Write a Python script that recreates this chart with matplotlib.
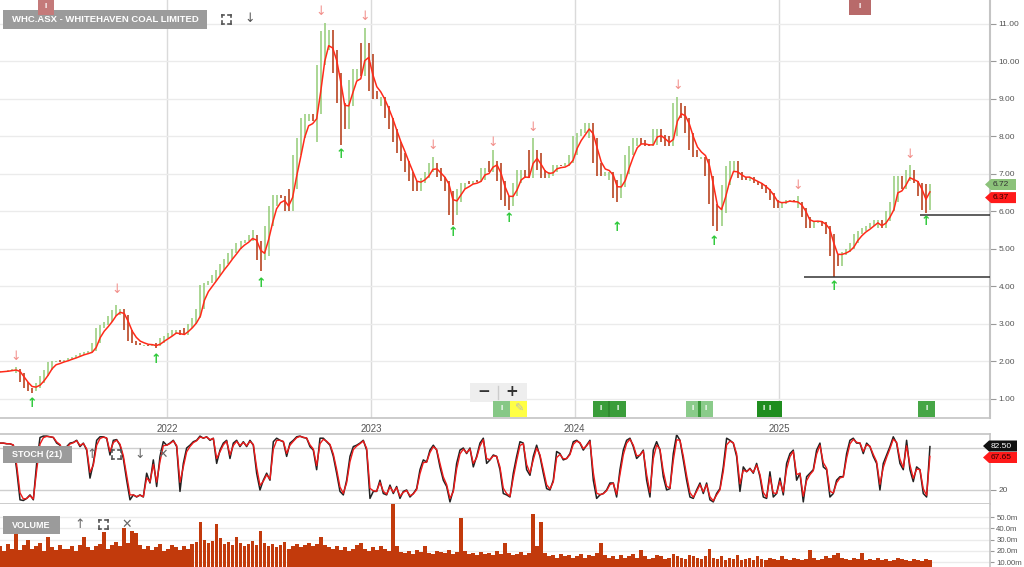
import matplotlib
matplotlib.use('Agg')
import matplotlib.pyplot as plt
import matplotlib.dates as mdates
from matplotlib.patches import Rectangle, Polygon
from matplotlib.lines import Line2D
import numpy as np
import pandas as pd

plt.rcParams['font.family'] = ['Liberation Sans', 'DejaVu Sans']

# ---------------- data ----------------
title = "WHC.ASX - WHITEHAVEN COAL LIMITED"
first_date = "2021-03-08"
last_date = "2025-09-28"

close = [
    1.72, 1.74, 1.75, 1.77, 1.79, 1.70, 1.45, 1.30, 1.22, 1.30,
    1.42, 1.60, 1.78, 1.98, 2.02, 1.98, 2.03, 2.05, 2.10, 2.13,
    2.18, 2.22, 2.24, 2.28, 2.50, 2.90, 2.98, 3.05, 3.20, 3.38,
    3.40, 3.25, 2.85, 2.55, 2.48, 2.44, 2.45, 2.42, 2.44, 2.40,
    2.50, 2.62, 2.68, 2.75, 2.84, 2.72, 2.70, 2.88, 3.00, 3.15,
    3.40, 4.05, 4.10, 4.15, 4.30, 4.45, 4.60, 4.72, 4.88, 5.00,
    5.15, 5.20, 5.25, 5.38, 5.20, 4.70, 4.80, 5.60, 6.15, 6.45,
    6.40, 6.35, 6.00, 6.60, 7.50, 7.95, 8.50, 8.60, 8.40, 8.60,
    9.90, 10.80, 10.85, 10.30, 9.70, 8.90, 8.20, 8.80, 9.50, 9.80,
    9.60, 10.50, 10.20, 9.20, 9.00, 9.05, 8.80, 8.50, 8.20, 7.85,
    7.56, 7.35, 7.05, 6.80, 6.55, 6.76, 6.90, 7.05, 7.30, 7.15,
    6.92, 6.80, 6.55, 5.90, 6.25, 6.60, 6.76, 6.72, 6.80, 6.78,
    6.85, 7.15, 7.05, 7.35, 7.30, 6.80, 6.30, 6.15, 6.40, 6.75,
    7.10, 7.00, 6.90, 7.65, 7.55, 7.10, 6.90, 6.95, 7.05, 7.25,
    7.20, 7.20, 7.30, 7.50, 8.00, 8.10, 8.20, 8.35, 7.95, 7.30,
    6.95, 6.95, 7.05, 6.85, 6.35, 6.65, 7.00, 7.50, 7.75, 7.95,
    7.90, 7.80, 7.75, 7.78, 8.20, 8.05, 7.85, 7.75, 8.00, 8.90,
    8.80, 8.50, 8.10, 7.65, 7.45, 7.45, 7.40, 6.95, 6.20, 5.60,
    5.95, 6.70, 7.20, 7.35, 7.05, 6.90, 6.85, 6.92, 6.80, 6.75,
    6.70, 6.60, 6.49, 6.30, 6.10, 6.20, 6.25, 6.31, 6.25, 6.25,
    6.10, 5.85, 5.55, 5.69, 5.75, 5.72, 5.60, 5.40, 4.80, 4.55,
    4.85, 4.92, 5.00, 5.15, 5.40, 5.48, 5.55, 5.60, 5.70, 5.78,
    5.55, 5.75, 6.00, 6.25, 6.95, 6.60, 6.85, 7.10, 6.80, 6.75,
    6.40, 6.05, 6.72,
]

# notable wick extremes: bar index -> price
high_spikes = {4: 1.85, 29: 3.50, 63: 5.50, 81: 11.03, 91: 10.89, 108: 7.45,
               123: 7.64, 133: 7.95, 169: 9.05, 199: 6.40, 227: 7.25}
low_spikes = {8: 1.15, 39: 2.36, 65: 4.40, 79: 7.85, 85: 7.77, 113: 5.64,
              127: 6.04, 154: 6.25, 179: 5.48, 208: 4.25, 231: 5.95}

volume_m = [
    24, 20, 26, 22, 35, 21, 25, 30, 22, 24, 27, 20, 32, 23, 21, 25, 22,
    22, 24, 20, 25, 32, 23, 21, 24, 26, 37, 22, 25, 28, 24, 40, 27, 38, 36, 25, 22, 24, 21, 23, 26, 20, 22, 25, 23, 21, 24, 22, 26, 28,
    46, 30, 27, 29, 44, 31, 26, 28, 25, 32, 27, 24, 26, 29, 25, 38,
    27, 24, 26, 23, 25, 28, 22, 24, 26, 23, 25, 27, 24, 26, 32, 25, 23,
    22, 24, 21, 23, 20, 22, 25, 27, 22, 20, 23, 21, 24, 22, 20, 62,
    24, 19, 18, 20, 17, 21, 19, 24, 18, 17, 20, 19, 18, 21, 17, 19, 49,
    20, 17, 18, 16, 19, 17, 18, 16, 20, 17, 27, 18, 16, 17, 19, 16, 18, 53,
    24, 46, 18, 15, 16, 14, 17, 15, 16, 14, 15, 17, 14, 16, 15, 18, 27,
    16, 14, 15, 13, 16, 14, 15, 17, 14, 21, 15, 13, 14, 16, 15, 13, 14, 17, 15, 14, 13, 16, 15, 14, 13, 15,
    22, 14, 13, 15, 12, 14, 13, 16, 12, 13, 14, 12, 15, 13, 12, 14, 13, 12, 15, 13, 12, 14, 13, 12,
    13, 21, 14, 12, 13, 15, 14, 16, 18, 14, 13, 12, 14, 13, 18, 12, 13, 12, 14, 12, 13, 11, 12, 14, 13, 12, 11, 13, 12, 11, 13, 12,
]

stoch_k = [
    87, 87, 86, 86, 84, 49, 6, 5, 8, 13, 6, 58, 95, 97, 97, 96, 95, 87, 84, 72,
    82, 87, 88, 91, 82, 87, 77, 37, 58, 91, 96, 96, 94, 70, 91, 92, 84, 65, 34, 6,
    13, 10, 13, 10, 44, 30, 63, 25, 68, 89, 84, 87, 91, 82, 18, 58, 80, 84, 89, 91,
    97, 94, 96, 91, 94, 58, 77, 87, 91, 65, 87, 91, 82, 89, 82, 91, 84, 44, 20, 34,
    44, 34, 89, 94, 91, 89, 68, 87, 91, 96, 97, 95, 94, 82, 77, 49, 94, 94, 89, 84,
    68, 44, 18, 13, 34, 68, 82, 84, 87, 91, 77, 8, 18, 18, 34, 15, 13, 27, 15, 25,
    8, 18, 20, 10, 15, 22, 49, 63, 60, 77, 84, 77, 53, 34, 25, 3, 20, 58, 77, 80,
    72, 80, 53, 68, 87, 94, 58, 63, 70, 68, 49,
    15, 13, 10, 44, 68, 89, 87, 49, 41, 68, 84, 68, 44, 22, 20, 34, 75, 72, 63, 65,
    72, 89, 91, 87, 77, 84, 91, 34, 8, 13, 15, 20, 30, 30, 10, 49, 77, 91, 94, 82,
    65, 70, 77, 34, 10, 77, 89, 77, 39, 20, 22, 72, 99, 91, 63, 34, 10, 8, 20, 30,
    15, 30, 6, 3, 15, 22, 53, 94, 91, 87, 68, 18, 53, 46, 51, 44, 58, 39, 10, 8,
    46, 10, 15, 37, 13, 58, 72, 77, 34, 44, 3, 39, 44, 49, 77, 87, 53, 49, 10, 15,
    34, 39, 39, 72, 91, 94, 87, 87, 72, 87, 82, 68, 58, 20, 58, 70, 82, 96, 87, 58,
    49, 91, 49, 32, 53, 49, 15, 10, 82,
]

down_arrows_idx = [4, 29, 80, 91, 108, 123, 133, 169, 199, 227]
down_arrows_px = [2.12, 3.91, 11.32, 11.19, 7.77, 7.85, 8.25, 9.35, 6.68, 7.51]
up_arrows_idx = [8, 39, 65, 85, 113, 127, 154, 178, 208, 231]
up_arrows_px = [0.89, 2.04, 4.09, 7.51, 5.43, 5.80, 5.56, 5.21, 4.01, 5.72]

support_start = ["2025-02-14", "2025-09-10"]
support_level = [4.25, 5.91]

year_labels = ["2022", "2023", "2024", "2025"]
price_ticks = [1, 2, 3, 4, 5, 6, 7, 8, 9, 10, 11]
vol_ticks = [10, 20, 30, 40, 50]
vol_tick_labels = ["10.00m", "20.0m", "30.0m", "40.0m", "50.0m"]
last_price_label = "6.72"
ma_label = "6.37"
stoch_k_label = "82.50"
stoch_d_label = "67.65"

# ---------------- derived series ----------------
start = pd.Timestamp(first_date)
end = pd.Timestamp(last_date)
span_days = (end - start).days
n = len(close)
bar_dates = mdates.date2num(start) + np.linspace(0, span_days, n)
stoch_dates = mdates.date2num(start) + np.linspace(0, span_days, len(stoch_k))
slot = span_days / (n - 1)

c = pd.Series(close)
hi = c.rolling(3, center=True, min_periods=1).max().values.copy()
lo = c.rolling(3, center=True, min_periods=1).min().values.copy()
for k, v in high_spikes.items():
    hi[k] = max(hi[k], v)
for k, v in low_spikes.items():
    lo[k] = min(lo[k], v)
prev = c.shift(1).fillna(c.iloc[0])
up = (c >= prev).values
ma = c.ewm(span=3, adjust=False).mean().values

K = pd.Series(stoch_k, dtype=float)
D = K.ewm(alpha=0.8, adjust=False).mean()

# ---------------- figure ----------------
W, H = 1024, 567
fig = plt.figure(figsize=(W / 100, H / 100), dpi=100)
fig.patch.set_facecolor('white')

def F(x, y):
    return (x / W, 1 - y / H)

ppd = 204 / 365.25
d2022 = mdates.date2num(pd.Timestamp('2022-01-01'))
xlim = (d2022 - 167 / ppd, d2022 + (990 - 167) / ppd)

grid_c = '#ebebeb'
border_c = '#c4c4c4'
txt_c = '#555555'

# price panel
ax = fig.add_axes([0, 1 - 418 / H, 990 / W, 418 / H])
ax.set_xlim(*xlim)
ax.set_ylim(0.493, 11.64)
for s in ['top', 'left']:
    ax.spines[s].set_visible(False)
ax.spines['right'].set_color(border_c)
ax.spines['right'].set_linewidth(1.5)
ax.spines['bottom'].set_color(border_c)
ax.spines['bottom'].set_linewidth(1.2)
ax.yaxis.tick_right()
ax.set_yticks(price_ticks)
ax.set_yticklabels([f"{t:.2f}" for t in price_ticks])
ax.tick_params(axis='y', length=4, color='#999999', labelsize=6, labelcolor=txt_c, pad=2)
ax.set_xticks([mdates.date2num(pd.Timestamp(f"{y}-01-01")) for y in year_labels])
ax.set_xticklabels(year_labels)
ax.tick_params(axis='x', length=0, labelsize=7, labelcolor=txt_c, pad=4)
ax.grid(axis='y', color=grid_c, lw=1)
ax.grid(axis='x', color='#dadada', lw=1)
ax.set_axisbelow(True)

cols = np.where(up, '#93cc76', '#b3340e')
ax.vlines(bar_dates, lo, hi, colors=cols, linewidth=1.1, zorder=2)
ax.plot(bar_dates, ma, color='#ff2a1a', lw=1.1, zorder=3)

for i, p in zip(down_arrows_idx, down_arrows_px):
    ax.text(bar_dates[i], p, '\u2193', color='#f28f8a', fontsize=9, ha='center', va='center',
            family='DejaVu Sans', zorder=4)
for i, p in zip(up_arrows_idx, up_arrows_px):
    ax.text(bar_dates[i], p, '\u2191', color='#2ec93a', fontsize=9, ha='center', va='center',
            family='DejaVu Sans', fontweight='bold', zorder=4)
for sd, lvl in zip(support_start, support_level):
    ax.hlines(lvl, mdates.date2num(pd.Timestamp(sd)), xlim[1], color='#333333', lw=1.1, zorder=3)

# stochastic panel
axs = fig.add_axes([0, 1 - 504 / H, 990 / W, 70 / H])
axs.set_xlim(*xlim)
axs.set_ylim(0, 100)
for s in ['top', 'bottom', 'right']:
    axs.spines[s].set_color(border_c)
    axs.spines[s].set_linewidth(1.2)
axs.spines['left'].set_visible(False)
axs.set_xticks([])
axs.yaxis.tick_right()
axs.set_yticks([20])
axs.set_yticklabels(['20'])
axs.tick_params(axis='y', length=4, color='#999999', labelsize=6, labelcolor=txt_c, pad=2)
for lvl in (20, 80):
    axs.axhline(lvl, color='#cfcfcf', lw=1, zorder=1)
axs.plot(stoch_dates, K, color='#222222', lw=1.1, zorder=2)
axs.plot(stoch_dates, D, color='#ee1a1a', lw=1.0, zorder=3)

# volume panel
axv = fig.add_axes([0, 0, 990 / W, 63 / H])
axv.set_xlim(*xlim)
axv.set_ylim(5.56, 61.6)
for s in ['top', 'bottom', 'left']:
    axv.spines[s].set_visible(False)
axv.spines['right'].set_color(border_c)
axv.spines['right'].set_linewidth(1.2)
axv.set_xticks([])
axv.yaxis.tick_right()
axv.set_yticks(vol_ticks)
axv.set_yticklabels(vol_tick_labels)
axv.tick_params(axis='y', length=3, color='#999999', labelsize=5.6, labelcolor=txt_c, pad=1.5)
axv.grid(axis='y', color=grid_c, lw=1)
axv.set_axisbelow(True)
axv.bar(bar_dates, volume_m, width=slot * 0.95, color='#c23a0c', linewidth=0, zorder=2)

# ---------------- overlays ----------------
def rect(x0, y0, x1, y1, fc, ec='none', lw=0, z=5):
    r = Rectangle(F(x0, y1), (x1 - x0) / W, (y1 - y0) / H, transform=fig.transFigure,
                  fc=fc, ec=ec, lw=lw, zorder=z)
    fig.add_artist(r)

def ftext(x, y, s, **kw):
    kw.setdefault('va', 'center')
    kw.setdefault('ha', 'center')
    kw.setdefault('zorder', 10)
    fig.text(x / W, 1 - y / H, s, **kw)

def expand_icon(cx, cy, s=4.5, color='#555555'):
    for sx in (-1, 1):
        for sy in (-1, 1):
            x, y = cx + sx * s, cy + sy * s
            fig.add_artist(Line2D([x / W, x / W], [1 - y / H, 1 - (y - sy * 2.5) / H],
                                  transform=fig.transFigure, color=color, lw=1.2, zorder=10))
            fig.add_artist(Line2D([x / W, (x - sx * 2.5) / W], [1 - y / H, 1 - y / H],
                                  transform=fig.transFigure, color=color, lw=1.2, zorder=10))

def flag(y, x0, x1, fc, s, tc):
    h = 5.5
    pts = [F(x0, y), F(x0 + 6, y - h), F(x1, y - h), F(x1, y + h), F(x0 + 6, y + h)]
    fig.add_artist(Polygon(pts, closed=True, transform=fig.transFigure, fc=fc, ec='none', zorder=6))
    ftext(x0 + 8, y, s, color=tc, fontsize=6, ha='left')

# header
rect(3, 10, 207, 29, '#9b9b9b')
ftext(105, 19.5, title, color='white', fontsize=6.8, fontweight='bold')
expand_icon(226, 19)
ftext(250, 19, '\u2193', color='#555555', fontsize=9, family='DejaVu Sans')

# top event markers
rect(38, 0, 54, 15, '#c47a7a')
ftext(46, 7, 'I', color='white', fontsize=6, fontweight='bold')
rect(849, 0, 871, 15, '#b86a6a')
ftext(860, 7, 'I', color='white', fontsize=6, fontweight='bold')

# zoom control
rect(470, 383, 527, 402, '#eeeeee')
fig.add_artist(Line2D([498 / W, 498 / W], [1 - 386 / H, 1 - 399 / H], transform=fig.transFigure,
                      color='#cccccc', lw=1, zorder=10))
ftext(484, 392, '\u2212', color='#333333', fontsize=11, fontweight='bold', family='DejaVu Sans')
ftext(512, 392, '+', color='#333333', fontsize=11, fontweight='bold', family='DejaVu Sans')

# bottom event markers
ev = [(493, 510, '#86c886'), (593, 609, '#3a9d3a'), (609, 626, '#3a9d3a'),
      (686, 699, '#8acb8a'), (699, 713, '#8acb8a'), (757, 782, '#1f8d1f'), (918, 935, '#46a646')]
for x0, x1, fc in ev:
    rect(x0, 401, x1, 417, fc)
    ftext((x0 + x1) / 2, 409, 'I', color='white', fontsize=6, fontweight='bold')
rect(698, 401, 701, 417, '#3d9a3d', z=6)
rect(608, 401, 610, 417, '#2f8a2f', z=6)
ftext(764, 409, 'I', color='white', fontsize=6, fontweight='bold')
rect(510, 401, 527, 417, '#ffff45')
ftext(518.5, 409, '\u270e', color='#bbbbbb', fontsize=8, family='DejaVu Sans')

# price flags
flag(184.5, 985, 1016, '#8cc27a', last_price_label, '#333333')
flag(197.6, 985, 1016, '#ff1a1a', ma_label, '#330000')

# stoch label & icons
rect(3, 446, 72, 463, '#9b9b9b')
ftext(37.5, 454.5, 'STOCH (21)', color='white', fontsize=6.5, fontweight='bold')
ftext(92, 454, '\u2191', color='#666666', fontsize=9, family='DejaVu Sans')
expand_icon(116, 454)
ftext(140, 454, '\u2193', color='#666666', fontsize=9, family='DejaVu Sans')
ftext(163, 454, '\u2715', color='#666666', fontsize=9, family='DejaVu Sans')
flag(446, 983, 1017, '#111111', stoch_k_label, 'white')
flag(457.5, 983, 1017, '#ff1a1a', stoch_d_label, '#330000')

# volume label & icons
rect(3, 516, 60, 534, '#9b9b9b')
ftext(31.5, 525, 'VOLUME', color='white', fontsize=6.5, fontweight='bold')
ftext(80, 524, '\u2191', color='#666666', fontsize=9, family='DejaVu Sans')
expand_icon(103, 524)
ftext(127, 524, '\u2715', color='#666666', fontsize=9, family='DejaVu Sans')

fig.savefig('out.png', dpi=100)
